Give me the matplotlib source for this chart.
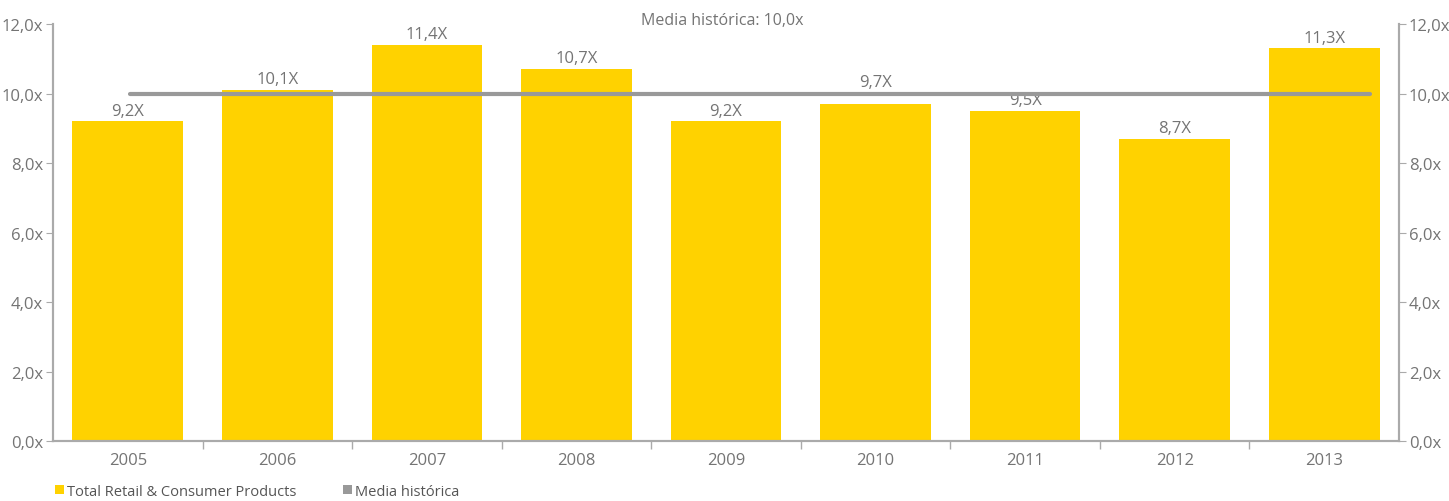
import numpy as np
import matplotlib.pyplot as plt
from matplotlib.patches import Patch

plt.rcParams['font.family'] = ['Open Sans', 'DejaVu Sans']

years = ['2005', '2006', '2007', '2008', '2009', '2010', '2011', '2012', '2013']
multiples = [9.2, 10.1, 11.4, 10.7, 9.2, 9.7, 9.5, 8.7, 11.3]
hist_avg = [10.0] * len(years)

yellow = '#FFD200'
grey_line = '#999999'
text_grey = '#747474'
spine_grey = '#aaaaaa'

fig = plt.figure(figsize=(14.49, 5.02), dpi=100)
ax = fig.add_axes([0.0366, 0.1195, 0.9289, 0.8305])

x = np.arange(len(years))
ax.bar(x, multiples, width=0.74, color=yellow, zorder=2)

avg = hist_avg[0]
for xi, v in zip(x, multiples):
    y_lab = v + 0.08
    # push labels that would sit on the average line above it
    if avg - 0.35 < y_lab < avg:
        y_lab = avg + 0.1
    ax.text(xi, y_lab, f'{v:.1f}X'.replace('.', ','), ha='center', va='bottom',
            fontsize=12, color=text_grey, zorder=4)

ax.set_xlim(-0.5, len(years) - 0.5)
ax.set_ylim(0, 12)
yt = np.arange(0, 13, 2)
ylabels = [f'{v:.1f}x'.replace('.', ',') for v in yt]
ax.set_yticks(yt)
ax.set_yticklabels(ylabels)

# year labels centred, tick marks on category boundaries
ax.set_xticks(x)
ax.set_xticklabels(years)
ax.tick_params(axis='x', length=0, pad=8, labelsize=12, labelcolor=text_grey)
ax.set_xticks(np.arange(0.5, len(years) - 1, 1), minor=True)
ax.tick_params(axis='x', which='minor', length=6, color=spine_grey, width=1)
ax.tick_params(axis='y', length=5, color=spine_grey, labelsize=12, labelcolor=text_grey, pad=2)

ax2 = ax.twinx()
ax2.set_ylim(0, 12)
ax2.set_yticks(yt)
ax2.set_yticklabels(ylabels)
ax2.tick_params(axis='y', length=5, color=spine_grey, labelsize=12, labelcolor=text_grey, pad=2)

# average line sits on its own secondary x axis
ax3 = ax2.twiny()
ax3.set_xlim(-0.497, 8.19)
ax3.set_ylim(0, 12)
ax3.plot(x, hist_avg, color=grey_line, lw=3, solid_capstyle='round', zorder=3)
ax3.axis('off')

for a in (ax, ax2):
    a.spines['top'].set_visible(False)
    for side in ('left', 'right', 'bottom'):
        a.spines[side].set_color(spine_grey)
        a.spines[side].set_linewidth(1.5)

fig.text(0.4985, 0.958, 'Media histórica: 10,0x', ha='center', va='center',
         fontsize=11.5, color=text_grey)

handles = [Patch(facecolor=yellow), Patch(facecolor=grey_line)]
fig.legend(handles, ['Total Retail & Consumer Products', 'Media histórica'],
           loc='lower left', bbox_to_anchor=(0.029, -0.022), ncol=2, frameon=False,
           fontsize=10.5, labelcolor='#555555', handlelength=0.6, handleheight=0.6,
           handletextpad=0.2, columnspacing=3.2)

fig.savefig('out.png', dpi=100)
